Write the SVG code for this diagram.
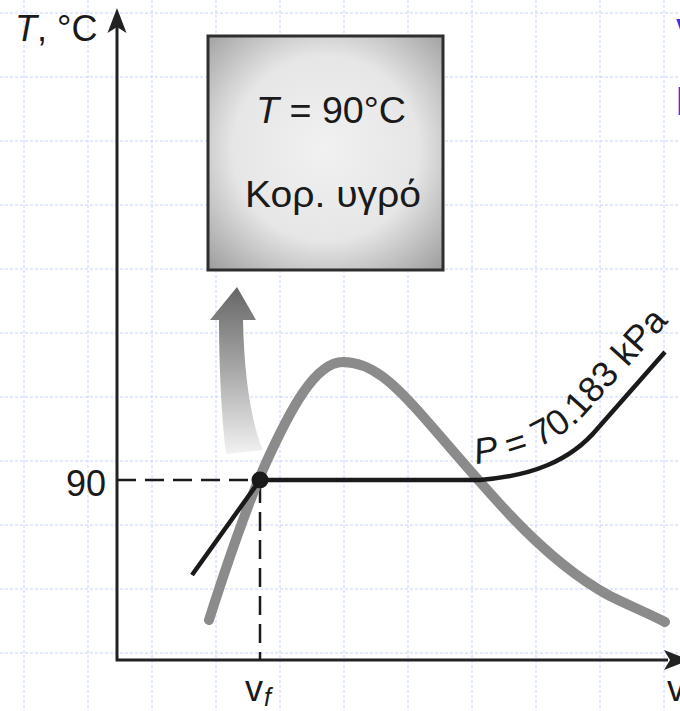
<svg xmlns="http://www.w3.org/2000/svg" width="680" height="711" viewBox="0 0 680 711">
<style>
.grid line{stroke:#c4d4fa;stroke-width:1;stroke-dasharray:3 2}
.axis{stroke:#222;stroke-width:3;fill:none}
.lbl{font-family:"Liberation Sans",Arial,sans-serif;fill:#1a1a1a}
.dash{stroke:#1a1a1a;stroke-width:2.5;stroke-dasharray:19 9;fill:none}
</style>
<defs>
<radialGradient id="boxg" cx="50%" cy="48%" r="72%">
<stop offset="0" stop-color="#f1f1f1"/>
<stop offset="0.55" stop-color="#e6e6e6"/>
<stop offset="1" stop-color="#9c9c9c"/>
</radialGradient>
<linearGradient id="arrg" x1="0" y1="287" x2="0" y2="455" gradientUnits="userSpaceOnUse">
<stop offset="0" stop-color="#666"/>
<stop offset="0.5" stop-color="#a9a9a9"/>
<stop offset="1" stop-color="#f3f3f3"/>
</linearGradient>
<path id="ptext" d="M 476,464 C 520,458 553,445 580,420 L 674,316"/>
</defs>
<rect width="680" height="711" fill="#fff"/>
<g class="grid" id="grid">
<line x1="24" y1="0" x2="24" y2="711"/><line x1="88" y1="0" x2="88" y2="711"/><line x1="152" y1="0" x2="152" y2="711"/><line x1="216" y1="0" x2="216" y2="711"/><line x1="280" y1="0" x2="280" y2="711"/><line x1="344" y1="0" x2="344" y2="711"/><line x1="408" y1="0" x2="408" y2="711"/><line x1="472" y1="0" x2="472" y2="711"/><line x1="536" y1="0" x2="536" y2="711"/><line x1="600" y1="0" x2="600" y2="711"/><line x1="664" y1="0" x2="664" y2="711"/>
<line x1="0" y1="13" x2="680" y2="13"/><line x1="0" y1="77" x2="680" y2="77"/><line x1="0" y1="141" x2="680" y2="141"/><line x1="0" y1="205" x2="680" y2="205"/><line x1="0" y1="269" x2="680" y2="269"/><line x1="0" y1="333" x2="680" y2="333"/><line x1="0" y1="397" x2="680" y2="397"/><line x1="0" y1="461" x2="680" y2="461"/><line x1="0" y1="525" x2="680" y2="525"/><line x1="0" y1="589" x2="680" y2="589"/><line x1="0" y1="653" x2="680" y2="653"/>
</g>
<g id="title-edge" font-family="Liberation Sans,Arial,sans-serif" font-weight="bold" fill="#3434e0">
<text x="676" y="45" font-size="36">V</text>
<text x="676" y="115" font-size="40">Π</text>
</g>
<g id="axes">
<path class="axis" d="M117,26 L117,660 L668,660"/>
<polygon points="117,8 126.5,33 117,27 107.5,33" fill="#222"/>
<polygon points="690,660 664,650 670,660 664,670" fill="#222"/>
<text class="lbl" x="15" y="41" font-size="36"><tspan font-style="italic">T</tspan>, °C</text>
<text class="lbl" x="106" y="496" font-size="36" text-anchor="end">90</text>
<text class="lbl" x="245" y="701" font-size="36">v</text>
<text class="lbl" x="264" y="706" font-size="25" font-style="italic">f</text>
<text class="lbl" x="667" y="701" font-size="36">v</text>
</g>
<g id="box">
<rect x="208" y="36" width="235" height="234" fill="url(#boxg)" stroke="#2e2e2e" stroke-width="3"/>
<text class="lbl" x="256" y="123" font-size="36" textLength="150" lengthAdjust="spacingAndGlyphs"><tspan font-style="italic">T</tspan> = 90°C</text>
<text class="lbl" x="245" y="207" font-size="36" textLength="176" lengthAdjust="spacingAndGlyphs">Κορ. υγρό</text>
</g>
<g id="arrow">
<path d="M237,287 L256,320 L243,320 C244,370 250,420 263,450 L226,454 C222,420 219,370 219,320 L210,320 Z" fill="url(#arrg)"/>
</g>
<g id="connectors">
<path d="M117,480 L256,480" class="dash"/>
<path d="M260,484 L260,660" class="dash"/>
<path d="M209,620 C225,570 245,510 265,465 C290,410 315,362 343,362 C372,362 395,385 420,413 C450,447 480,483 510,515 C545,552 580,580 610,596 C630,606 650,614 665,622" fill="none" stroke="#8b8b8b" stroke-width="10" stroke-linecap="round"/>
<path d="M192,575 L260,480 L480,480 C530,476 570,462 598,428 L665,352" fill="none" stroke="#1a1a1a" stroke-width="4.5" stroke-linejoin="round"/>
<circle cx="260" cy="480" r="8.5" fill="#1a1a1a"/>
<text class="lbl" font-size="36"><textPath href="#ptext"><tspan font-style="italic">P</tspan> = 70.183 kPa</textPath></text>
</g>
</svg>
